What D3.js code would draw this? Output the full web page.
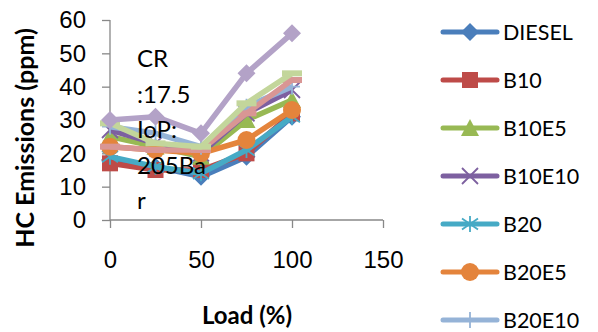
<!DOCTYPE html>
<html>
<head>
<meta charset="utf-8">
<script src="https://cdn.jsdelivr.net/npm/d3@7"></script>
<style>
  body { margin: 0; background: #fff; }
  svg { font-family: Lato, "Open Sans", sans-serif; }
</style>
</head>
<body>
<svg id="chart" width="598" height="332"></svg>
<script>
const loads = [0, 25, 50, 75, 100];
const seriesNames = ['DIESEL', 'B10', 'B10E5', 'B10E10', 'B20', 'B20E5', 'B20E10', 'B30', 'B30E5', 'B30E10'];
const diesel = [18, 16, 13, 19, 31];
const b10 = [17, 15, 15, 20, 32];
const b10e5 = [25, 22, 19, 30, 36];
const b10e10 = [27, 23, 20, 32, 39];
const b20 = [19, 16, 14, 21, 31];
const b20e5 = [22, 21, 20, 24, 33];
const b20e10 = [28, 26, 22, 34, 40];
const b30 = [22, 21, 21, 32, 42];
const b30e5 = [29, 23, 22, 35, 44];
const b30e10 = [30, 31, 26, 44, 56];
const xTicks = [0, 50, 100, 150];
const yTicks = [0, 10, 20, 30, 40, 50, 60];
const noteLines = ['CR', ':17.5', 'IoP:', '205Ba', 'r'];

const allValues = [diesel, b10, b10e5, b10e10, b20, b20e5, b20e10, b30, b30e5, b30e10];
const colors = ['#4a7ebb', '#be4b48', '#98b954', '#7d60a0', '#46aac5', '#e4843c', '#95b3d7', '#d99694', '#c3d69b', '#b3a2c7'];
const markers = ['diamond', 'square', 'triangle', 'x', 'star', 'circle', 'plus', 'dash', 'dash', 'diamond'];

const series = seriesNames.map((name, i) => ({
  name: name,
  color: colors[i],
  marker: markers[i],
  points: loads.map((l, j) => ({ x: l, y: allValues[i][j] }))
}));

const svg = d3.select('#chart');

const x = d3.scaleLinear().domain([0, 150]).range([110, 383]);
const y = d3.scaleLinear().domain([0, 60]).range([220, 20]);

// axes
const xAxis = svg.append('g')
  .attr('transform', 'translate(0,220)')
  .call(d3.axisBottom(x).tickValues(xTicks).tickSize(8).tickPadding(23));
const yAxis = svg.append('g')
  .attr('transform', 'translate(110,0)')
  .call(d3.axisLeft(y).tickValues(yTicks).tickSize(8).tickPadding(16));

[xAxis, yAxis].forEach(a => {
  a.select('.domain').attr('stroke', '#888').attr('stroke-width', 1.3);
  a.selectAll('.tick line').attr('stroke', '#888').attr('stroke-width', 1.3);
  a.selectAll('.tick text').attr('fill', '#000').style('font-size', '24px');
});
// excel draws the domain without outer tick caps
yAxis.select('.domain').attr('d', 'M0,' + y(60) + 'V' + y(0));
xAxis.select('.domain').attr('d', 'M' + x(0) + ',0H' + x(150));

// marker shapes
function drawMarker(g, type, color) {
  const s = 8;
  if (type === 'diamond') {
    g.append('path').attr('d', `M0,${-s - 1}L${s + 1},0L0,${s + 1}L${-s - 1},0Z`).attr('fill', color);
  } else if (type === 'square') {
    g.append('rect').attr('x', -s).attr('y', -s).attr('width', 2 * s).attr('height', 2 * s).attr('fill', color);
  } else if (type === 'triangle') {
    g.append('path').attr('d', `M0,${-s - 1}L${s + 1},${s}L${-s - 1},${s}Z`).attr('fill', color);
  } else if (type === 'circle') {
    g.append('circle').attr('r', s + 1).attr('fill', color);
  } else if (type === 'x') {
    g.append('path').attr('d', `M${-s},${-s}L${s},${s}M${s},${-s}L${-s},${s}`).attr('stroke', color).attr('stroke-width', 1.8);
  } else if (type === 'star') {
    g.append('path').attr('d', `M${-s},${-s * 0.7}L${s},${s * 0.7}M${s},${-s * 0.7}L${-s},${s * 0.7}M0,${-s}V${s}`).attr('stroke', color).attr('stroke-width', 1.8);
  } else if (type === 'plus') {
    g.append('path').attr('d', `M0,${-s}V${s}M${-s},0H${s}`).attr('stroke', color).attr('stroke-width', 1.8);
  } else if (type === 'dash') {
    g.append('rect').attr('x', -s - 2).attr('y', -3).attr('width', 2 * s + 4).attr('height', 6).attr('fill', color);
  }
}

const line = d3.line().x(d => x(d.x)).y(d => y(d.y));

const plot = svg.append('g');
series.forEach(s => {
  const g = plot.append('g');
  g.append('path')
    .datum(s.points)
    .attr('d', line)
    .attr('fill', 'none')
    .attr('stroke', s.color)
    .attr('stroke-width', 5.5)
    .attr('stroke-linejoin', 'round');
  g.selectAll('g.pt')
    .data(s.points)
    .join('g')
    .attr('class', 'pt')
    .attr('transform', d => `translate(${x(d.x)},${y(d.y)})`)
    .each(function() { drawMarker(d3.select(this), s.marker, s.color); });
});

// annotation
svg.append('g')
  .selectAll('text')
  .data(noteLines)
  .join('text')
  .attr('x', 137)
  .attr('y', (d, i) => 67 + i * 35.5)
  .style('font-size', '24px')
  .text(d => d);

// axis titles
svg.append('text')
  .attr('x', 247)
  .attr('y', 324)
  .attr('text-anchor', 'middle')
  .style('font-size', '24px')
  .style('font-weight', 'bold')
  .text('Load (%)');
svg.append('text')
  .attr('transform', 'translate(34,138) rotate(-90)')
  .attr('text-anchor', 'middle')
  .style('font-size', '25px')
  .style('font-weight', 'bold')
  .text('HC Emissions (ppm)');

// legend (the entries past the 7th fall off the bottom, as in the original)
const legend = svg.append('g');
series.forEach((s, i) => {
  const ly = 32 + i * 48;
  if (ly > 332) return;
  const g = legend.append('g').attr('transform', `translate(0,${ly})`);
  g.append('line').attr('x1', 443).attr('x2', 497)
    .attr('stroke', s.color).attr('stroke-width', 5).attr('stroke-linecap', 'round');
  const m = g.append('g').attr('transform', 'translate(470,0)');
  drawMarker(m, s.marker, s.color);
  g.append('text').attr('x', 503).attr('y', 7.5).style('font-size', '21.5px').text(s.name);
});
</script>
</body>
</html>
